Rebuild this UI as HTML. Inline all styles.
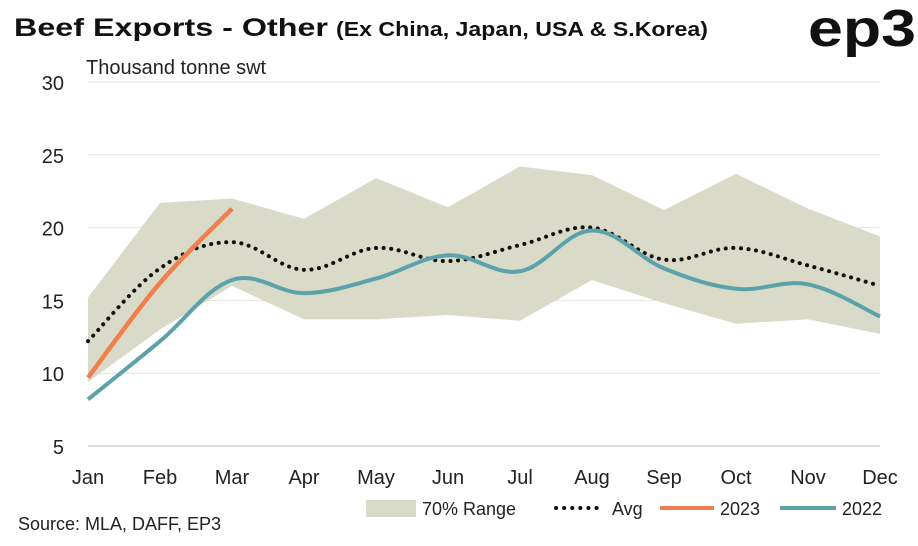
<!DOCTYPE html>
<html><head><meta charset="utf-8">
<style>
body{margin:0;background:#fff;width:918px;height:541px;overflow:hidden;font-family:"Liberation Sans",sans-serif;}
svg text{font-family:"Liberation Sans",sans-serif;}
</style></head>
<body>
<svg id="chart" width="918" height="541">
<text x="14" y="36" font-size="25" font-weight="bold" fill="#111" textLength="314" lengthAdjust="spacingAndGlyphs">Beef Exports - Other</text>
<text x="336" y="36" font-size="20" font-weight="bold" fill="#111" textLength="372" lengthAdjust="spacingAndGlyphs">(Ex China, Japan, USA &amp; S.Korea)</text>
<text x="808" y="46" font-size="52" font-weight="bold" fill="#111" textLength="108" lengthAdjust="spacingAndGlyphs">ep3</text>
<text x="86" y="74" font-size="20" fill="#222">Thousand tonne swt</text>
<g id="grid"></g><g id="marks"></g><g id="axes"></g>
<g>
<rect x="366" y="500" width="50" height="17" fill="#d9dac7"/>
<text x="422" y="515" font-size="18" fill="#222">70% Range</text>
<line x1="556" y1="508" x2="604" y2="508" stroke="#111" stroke-width="4" stroke-dasharray="0.1,8" stroke-linecap="round"/>
<text x="612" y="515" font-size="18" fill="#222">Avg</text>
<line x1="660" y1="508" x2="714" y2="508" stroke="#f07f4e" stroke-width="4"/>
<text x="720" y="515" font-size="18" fill="#222">2023</text>
<line x1="780" y1="508" x2="836" y2="508" stroke="#5aa3ab" stroke-width="4"/>
<text x="842" y="515" font-size="18" fill="#222">2022</text>
</g>
<text x="18" y="530" font-size="18" fill="#222">Source: MLA, DAFF, EP3</text>
</svg>
<script>
const months=["Jan","Feb","Mar","Apr","May","Jun","Jul","Aug","Sep","Oct","Nov","Dec"];
const yTicks=[5,10,15,20,25,30];
const rangeHigh=[15.2,21.7,22.0,20.6,23.4,21.4,24.2,23.6,21.2,23.7,21.3,19.4];
const rangeLow=[9.4,13.0,16.0,13.7,13.7,14.0,13.6,16.4,14.8,13.4,13.7,12.7];
const avg=[12.2,17.2,19.0,17.1,18.6,17.7,18.8,20.0,17.8,18.6,17.4,16.0];
const s2023=[9.7,16.2,21.3];
const s2022=[8.2,12.2,16.4,15.5,16.5,18.1,17.0,19.8,17.2,15.8,16.1,13.9];
const NS="http://www.w3.org/2000/svg";
const x=i=>88+i*72;
const y=v=>446-(v-5)*(446-82)/25;
function mk(tag,attrs,parent){const e=document.createElementNS(NS,tag);for(const k in attrs)e.setAttribute(k,attrs[k]);parent.appendChild(e);return e;}
function pts(arr){return arr.map((v,i)=>[x(i),y(v)]);}
function smooth(p){let d="M"+p[0][0]+","+p[0][1];for(let i=0;i<p.length-1;i++){const p0=p[i-1]||p[i],p1=p[i],p2=p[i+1],p3=p[i+2]||p2;const t=0.18;d+=` C${p1[0]+(p2[0]-p0[0])*t},${p1[1]+(p2[1]-p0[1])*t} ${p2[0]-(p3[0]-p1[0])*t},${p2[1]-(p3[1]-p1[1])*t} ${p2[0]},${p2[1]}`;}return d;}
const grid=document.getElementById("grid"),marks=document.getElementById("marks"),axes=document.getElementById("axes");
yTicks.forEach(t=>{
 if(t>5){const l=mk("line",{x1:88,x2:880,y1:y(t),y2:y(t),stroke:"#e4e4e4","stroke-width":1},grid);
 
 }
 const tx=mk("text",{x:64,y:y(t)+8,"font-size":20,"text-anchor":"end",fill:"#222"},axes);tx.textContent=t;
 
 
});
mk("line",{x1:88,x2:880,y1:y(5),y2:y(5),stroke:"#bbb","stroke-width":1},axes);
months.forEach((m,i)=>{const tx=mk("text",{x:x(i),y:484,"font-size":20,"text-anchor":"middle",fill:"#222"},axes);tx.textContent=m;
 
 });
const hi=pts(rangeHigh),lo=pts(rangeLow).reverse();
const area=mk("path",{d:"M"+hi.concat(lo).map(p=>p.join(",")).join(" L")+"Z",fill:"#d9dac7"},marks);


const a=mk("path",{d:smooth(pts(avg)),fill:"none",stroke:"#111","stroke-width":4,"stroke-dasharray":"0.1,7.5","stroke-linecap":"round"},marks);


const l22=mk("path",{d:smooth(pts(s2022)),fill:"none",stroke:"#5aa3ab","stroke-width":4},marks);


const l23=mk("path",{d:smooth(pts(s2023)),fill:"none",stroke:"#f07f4e","stroke-width":4.5},marks);


</script>
</body></html>
